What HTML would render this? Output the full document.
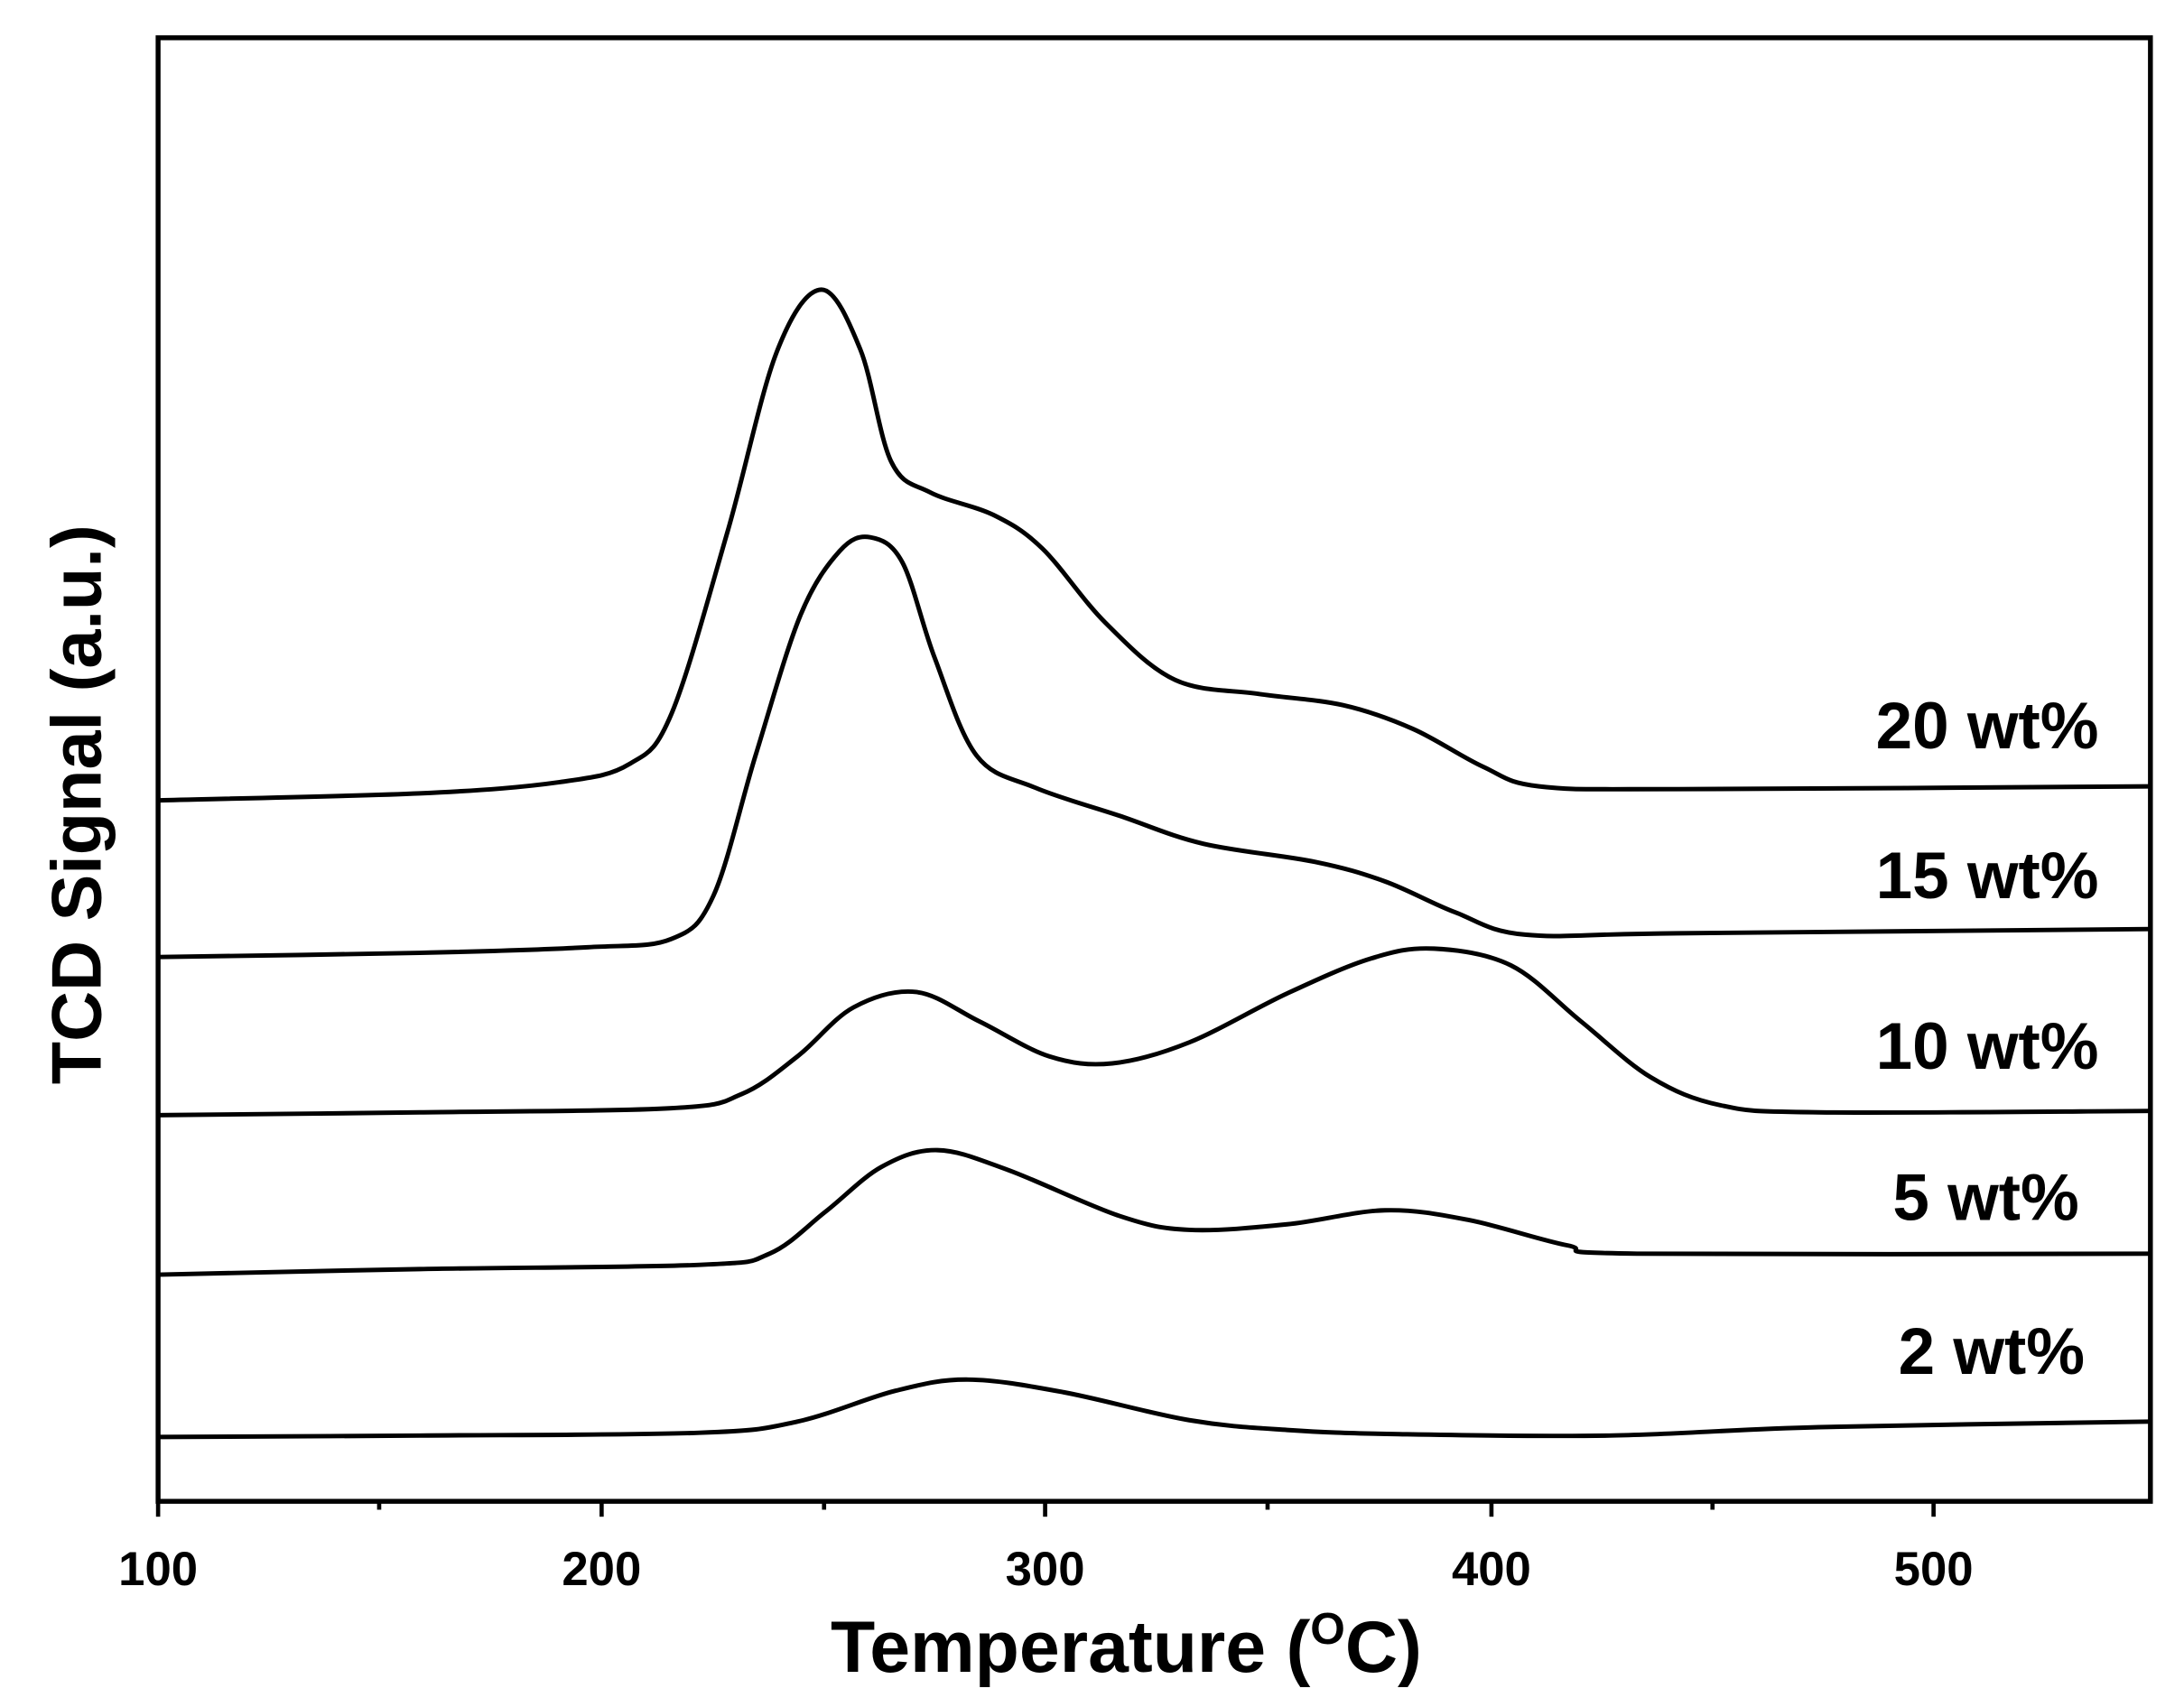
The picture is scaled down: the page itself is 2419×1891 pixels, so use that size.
<!DOCTYPE html>
<html><head><meta charset="utf-8"><style>
html,body{margin:0;padding:0;background:#fff;}
svg{display:block;}
text{font-family:"Liberation Sans",Arial,sans-serif;font-weight:bold;fill:#000;}
</style></head><body>
<svg id="s" width="2419" height="1891" viewBox="0 0 1561 1220" preserveAspectRatio="none" xmlns="http://www.w3.org/2000/svg">
<rect x="0" y="0" width="1561" height="1220" fill="#fff"/>
<rect x="113" y="27" width="1424" height="1046" fill="none" stroke="#000" stroke-width="3.5"/>
<g stroke="#000" stroke-width="3">
<line x1="113" y1="1073" x2="113" y2="1084"/>
<line x1="430" y1="1073" x2="430" y2="1084"/>
<line x1="747" y1="1073" x2="747" y2="1084"/>
<line x1="1066" y1="1073" x2="1066" y2="1084"/>
<line x1="1382" y1="1073" x2="1382" y2="1084"/>
<line x1="271" y1="1073" x2="271" y2="1079"/>
<line x1="589" y1="1073" x2="589" y2="1079"/>
<line x1="906" y1="1073" x2="906" y2="1079"/>
<line x1="1224" y1="1073" x2="1224" y2="1079"/>
</g>
<g font-size="34" text-anchor="middle">
<text x="113" y="1133">100</text>
<text x="430" y="1133">200</text>
<text x="747" y="1133">300</text>
<text x="1066" y="1133">400</text>
<text x="1382" y="1133">500</text>
</g>
<text x="805" y="1195" font-size="52" text-anchor="middle">Temperature (<tspan font-size="32" dy="-20">O</tspan><tspan dy="20">C)</tspan></text>
<text transform="translate(72,575) rotate(-90)" font-size="50" text-anchor="middle">TCD Signal (a.u.)</text>
<g font-size="47" text-anchor="end">
<text x="1500" y="535">20 wt%</text>
<text x="1500" y="642">15 wt%</text>
<text x="1500" y="764">10 wt%</text>
<text x="1486" y="872">5 wt%</text>
<text x="1490" y="982">2 wt%</text>
</g>
<g id="curves" fill="none" stroke="#000" stroke-width="3.2" stroke-linejoin="round"></g>
</svg>
<script>
var data=[
[[113,572],[300,567],[400,559],[450,546],[480,510],[520,380],[555,252],[587,207],[615,250],[637,330],[665,352],[710,368],[745,392],[790,445],[840,486],[900,496],[960,504],[1010,521],[1060,548],[1100,562],[1200,564],[1537,562]],
[[113,684],[300,681],[420,677],[480,671],[510,640],[540,540],[572,440],[600,394],[622,384],[645,402],[668,470],[698,540],[740,563],[800,583],[860,603],[940,616],[990,630],[1040,652],[1090,668],[1200,667],[1537,664]],
[[113,797],[300,795],[480,792],[530,782],[570,755],[610,720],[655,709],[700,730],[750,755],[795,760],[850,745],[920,710],[980,685],[1025,678],[1080,690],[1130,730],[1180,770],[1230,790],[1300,795],[1537,794]],
[[113,911],[300,907],[500,904],[550,896],[590,866],[630,834],[670,822],[720,836],[800,869],[850,879],[920,875],[990,865],[1050,872],[1120,890],[1170,896],[1537,896]],
[[113,1027],[300,1026],[500,1024],[570,1016],[640,994],[692,986],[760,995],[850,1015],[920,1022],[1000,1025],[1150,1026],[1300,1020],[1537,1016]]
];
var g=document.getElementById('curves');
data.forEach(function(p){
 var d='M'+p[0][0]+','+p[0][1];
 for(var i=0;i<p.length-1;i++){
  var p0=p[i-1]||p[i],p1=p[i],p2=p[i+1],p3=p[i+2]||p2;
  var c1x=p1[0]+(p2[0]-p0[0])/6,c1y=p1[1]+(p2[1]-p0[1])/6;
  var c2x=p2[0]-(p3[0]-p1[0])/6,c2y=p2[1]-(p3[1]-p1[1])/6;
  d+=' C'+c1x+','+c1y+' '+c2x+','+c2y+' '+p2[0]+','+p2[1];
 }
 var e=document.createElementNS('http://www.w3.org/2000/svg','path');
 e.setAttribute('d',d);g.appendChild(e);
});
</script>
</body></html>
